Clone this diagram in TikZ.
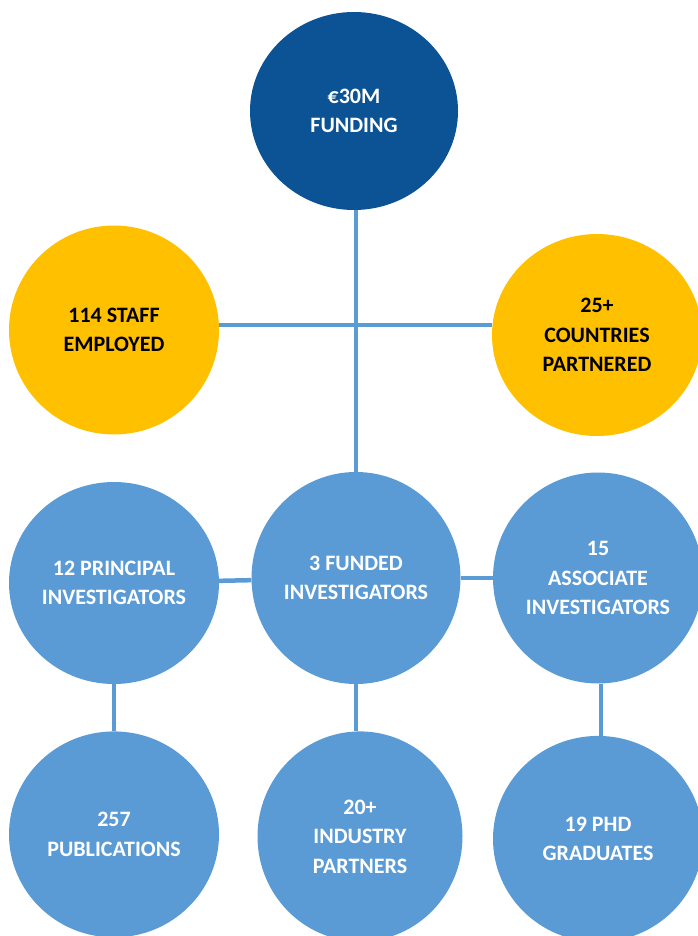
\documentclass[tikz,border=0pt]{standalone}
\usepackage{fontspec}
\setmainfont{Carlito}
\usetikzlibrary{positioning,shapes.geometric}
\definecolor{fundBlue}{HTML}{0B5394}
\definecolor{staffGold}{HTML}{FFC000}
\definecolor{invBlue}{HTML}{5B9BD5}
\tikzset{
  bubble/.style={
    ellipse, fill=invBlue, text=white, inner sep=0pt,
    minimum width=210pt, minimum height=206pt, align=center,
    font=\bfseries\fontsize{22}{29.5}\selectfont
  },
  gold bubble/.style={bubble, fill=staffGold, text=black},
  top bubble/.style={bubble, fill=fundBlue},
  link/.style={draw=invBlue, line width=4.5pt}
}

\begin{document}
\begin{tikzpicture}[x=1pt,y=-1pt]
            \useasboundingbox (0,0) rectangle (697,936);

            % Financiacion
            \draw node[top bubble, minimum width=208pt, minimum height=198pt] (funding) at (354,111) {€30M\\FUNDING};

            % Personal y paises
            \draw node[gold bubble, minimum height=209pt] (staff) at (114,330) {114 STAFF\\EMPLOYED};
            \draw node[gold bubble, minimum height=202pt] (countries) at (597,335) {25+\\COUNTRIES\\PARTNERED};
            \coordinate (cross) at (356,325);

            % Investigadores
            \draw node[bubble, minimum height=202pt] (principal) at (114,583) {12 PRINCIPAL\\INVESTIGATORS};
            \draw node[bubble, minimum width=209pt, minimum height=212pt] (funded) at (356,578) {3 FUNDED\\INVESTIGATORS};
            \draw node[bubble, minimum height=211pt] (associate) at (598,578) {15\\ASSOCIATE\\INVESTIGATORS};

            % Resultados
            \draw node[bubble, below = 47pt of principal] (pubs) {257\\PUBLICATIONS};
            \draw node[bubble, minimum width=205pt, minimum height=210pt, below = 47pt of funded, xshift=4pt] (industry) {20+\\INDUSTRY\\PARTNERS};
            \draw node[bubble, below = 52pt of associate] (phd) {19 PHD\\GRADUATES};

            % Conexiones
            \draw [link] (cross |- funding.south) -- (cross |- funded.north);
            \draw [link] (cross -| staff.east) -- (cross -| countries.west);
            \draw [link] (principal) -- (funded);
            \draw [link] (funded) -- (associate);
            \draw [link] (principal.south) -- (pubs.north);
            \draw [link] ([yshift=4pt]funded.south) -- (funded.south |- industry.north);
            \draw [link] ([xshift=3pt]associate.south) -- ([xshift=3pt]associate.south |- phd.north);

        \end{tikzpicture}
\end{document}
